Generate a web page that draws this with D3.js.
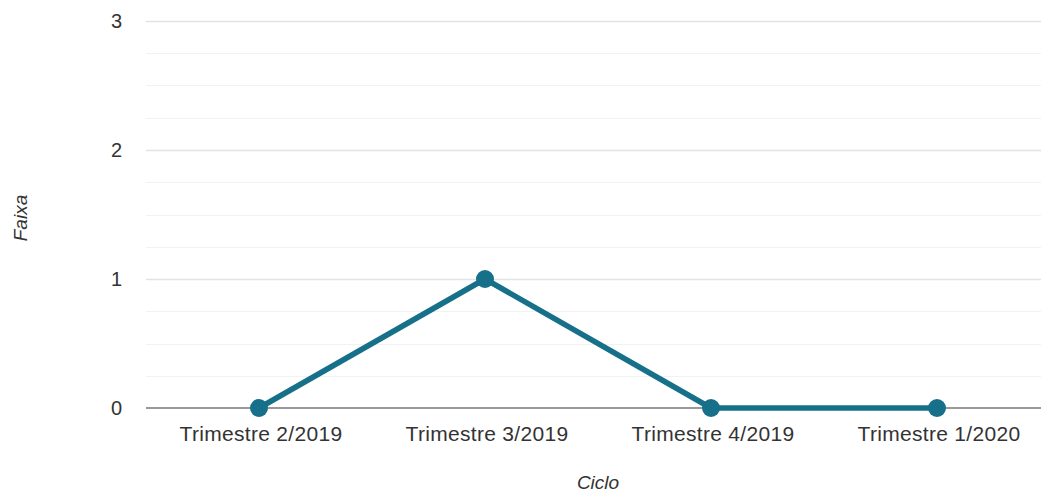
<!DOCTYPE html>
<html>
<head>
<meta charset="utf-8">
<script src="https://cdn.jsdelivr.net/npm/d3@7"></script>
<style>
  body { margin: 0; background: #fff; }
  text { font-family: "Liberation Sans", Arial, sans-serif; }
</style>
</head>
<body>
<script>
// data
var categories = ['Trimestre 2/2019', 'Trimestre 3/2019', 'Trimestre 4/2019', 'Trimestre 1/2020'];
var faixa = [0, 1, 0, 0];
var yTicks = [0, 1, 2, 3];

var W = 1041, H = 494;
var svg = d3.select('body').append('svg')
    .attr('width', W)
    .attr('height', H);

// scales
var x = d3.scaleBand().domain(categories).range([146, 1050]);
var y = d3.scaleLinear().domain([0, 3]).range([408, 21]);

// minor grid
var minor = d3.range(0, 3.01, 0.25).filter(function(d){ return d % 1 !== 0; });
svg.append('g').selectAll('line')
    .data(minor).enter().append('line')
    .attr('x1', 146).attr('x2', W)
    .attr('y1', function(d){ return Math.round(y(d)) + 0.5; })
    .attr('y2', function(d){ return Math.round(y(d)) + 0.5; })
    .attr('stroke', '#f2f2f2')
    .attr('stroke-width', 1);

// major grid
svg.append('g').selectAll('line')
    .data(yTicks.filter(function(d){ return d > 0; })).enter().append('line')
    .attr('x1', 146).attr('x2', W)
    .attr('y1', function(d){ return Math.round(y(d)) + 0.5; })
    .attr('y2', function(d){ return Math.round(y(d)) + 0.5; })
    .attr('stroke', '#e3e3e3')
    .attr('stroke-width', 1.5);

// baseline
svg.append('line')
    .attr('x1', 146).attr('x2', W)
    .attr('y1', y(0)).attr('y2', y(0))
    .attr('stroke', '#777')
    .attr('stroke-width', 1.5);

// y tick labels
svg.append('g').selectAll('text')
    .data(yTicks).enter().append('text')
    .attr('x', 122)
    .attr('y', function(d){ return y(d) + 7; })
    .attr('text-anchor', 'end')
    .attr('font-size', 20)
    .attr('fill', '#333')
    .text(function(d){ return d; });

// x tick labels
svg.append('g').selectAll('text')
    .data(categories).enter().append('text')
    .attr('x', function(d){ return x(d) + x.bandwidth() / 2 + 2; })
    .attr('y', 441)
    .attr('text-anchor', 'middle')
    .attr('font-size', 21)
    .attr('letter-spacing', 0.3)
    .attr('fill', '#333')
    .text(function(d){ return d; });

// line
var line = d3.line()
    .x(function(d, i){ return x(categories[i]) + x.bandwidth() / 2; })
    .y(function(d){ return y(d); });

svg.append('path')
    .datum(faixa)
    .attr('d', line)
    .attr('fill', 'none')
    .attr('stroke', '#17708a')
    .attr('stroke-width', 5.5)
    .attr('stroke-linejoin', 'round');

svg.append('g').selectAll('circle')
    .data(faixa).enter().append('circle')
    .attr('cx', function(d, i){ return x(categories[i]) + x.bandwidth() / 2; })
    .attr('cy', function(d){ return y(d); })
    .attr('r', 9)
    .attr('fill', '#17708a');

// axis titles
svg.append('text')
    .attr('x', 598)
    .attr('y', 489)
    .attr('text-anchor', 'middle')
    .attr('font-size', 19)
    .attr('font-style', 'italic')
    .attr('fill', '#333')
    .text('Ciclo');

svg.append('text')
    .attr('transform', 'translate(27,218) rotate(-90)')
    .attr('text-anchor', 'middle')
    .attr('font-size', 19)
    .attr('font-style', 'italic')
    .attr('fill', '#333')
    .text('Faixa');
</script>
</body>
</html>
